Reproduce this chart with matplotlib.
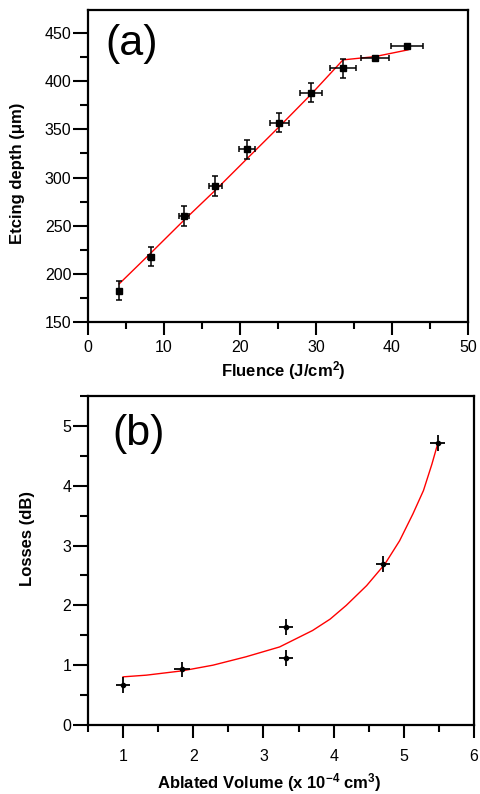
import matplotlib
matplotlib.use("Agg")
import matplotlib.pyplot as plt
from matplotlib.ticker import MultipleLocator

plt.rcParams['font.family'] = ['Liberation Sans', 'DejaVu Sans']
plt.rcParams['mathtext.fontset'] = 'custom'
plt.rcParams['mathtext.rm'] = 'Liberation Sans'
plt.rcParams['mathtext.bf'] = 'Liberation Sans:bold'
plt.rcParams['mathtext.it'] = 'Liberation Sans:italic'

# ---- Panel (a) data ----
fluence = [4.1, 8.3, 12.6, 16.75, 20.95, 25.15, 29.35, 33.55, 37.75, 41.95]
depth = [182.6, 218, 260, 291.3, 329.5, 357, 388, 413.5, 424.6, 436.7]
fluence_err = [0.2, 0.42, 0.63, 0.84, 1.05, 1.26, 1.47, 1.68, 1.89, 2.1]
depth_err = [10, 10, 10, 10, 10, 10, 10, 10, 0, 0]
fit_a_x = [4.1, 8.3, 12.6, 16.75, 20.95, 25.15, 29.35, 33.55, 37.75, 42.1]
fit_a_y = [189.6, 221.9, 255.5, 286.8, 319.8, 352.7, 386.4, 422.2, 425.6, 432.6]

# ---- Panel (b) data ----
volume = [1.0, 1.84, 3.32, 3.32, 4.71, 5.48]
losses = [0.667, 0.93, 1.64, 1.12, 2.69, 4.71]
volume_err = [0.1, 0.12, 0.1, 0.1, 0.1, 0.1]
losses_err = [0.13, 0.13, 0.13, 0.13, 0.13, 0.13]
fit_b_x = [1.0, 1.33, 1.84, 2.28, 2.75, 3.23, 3.70, 3.95, 4.18, 4.47, 4.73,
           4.94, 5.13, 5.28, 5.40, 5.48]
fit_b_y = [0.805, 0.833, 0.905, 1.0, 1.14, 1.305, 1.58, 1.77, 2.0, 2.33, 2.69,
           3.08, 3.53, 3.92, 4.36, 4.69]

fig = plt.figure(figsize=(4.81, 7.94), dpi=100)
W, H = 481, 794

def axes_px(l, t, r, b):
    return fig.add_axes([l / W, 1 - b / H, (r - l) / W, (b - t) / H])

def style(ax):
    for s in ax.spines.values():
        s.set_linewidth(1.6)
    ax.tick_params(which='both', direction='out', top=False, right=False,
                   width=1.5, labelsize=11.5)
    ax.tick_params(axis='x', which='major', length=9, pad=4)
    ax.tick_params(axis='x', which='minor', length=5)
    ax.tick_params(axis='y', which='major', length=11, pad=1)
    ax.tick_params(axis='y', which='minor', length=6)

# Panel (a)
ax1 = axes_px(88, 10, 468, 322)
ax1.plot(fit_a_x, fit_a_y, color='red', lw=1.0, zorder=2)
ax1.errorbar(fluence, depth, xerr=fluence_err, yerr=depth_err, fmt='s',
             color='black', ms=4, ecolor='black', elinewidth=1.1,
             capsize=2.5, capthick=1.1, zorder=3)
ax1.set_xlim(0, 50)
ax1.set_ylim(150, 474)
ax1.xaxis.set_major_locator(MultipleLocator(10))
ax1.xaxis.set_minor_locator(MultipleLocator(5))
ax1.yaxis.set_major_locator(MultipleLocator(50))
ax1.yaxis.set_minor_locator(MultipleLocator(25))
style(ax1)
ax1.set_xlabel(r'Fluence (J/cm$^\mathbf{2}$)', fontsize=12, fontweight='bold')
ax1.set_ylabel('Etcing depth (μm)', fontsize=12, fontweight='bold')
ax1.xaxis.set_label_coords(0.515, -0.118)
ax1.yaxis.set_label_coords(-0.166, 0.478)
ax1.text(0.045, 0.856, '(a)', transform=ax1.transAxes, fontsize=31,
         ha='left', va='baseline')

# Panel (b)
ax2 = axes_px(88, 396, 474, 725)
ax2.plot(fit_b_x, fit_b_y, color='red', lw=1.0, zorder=2)
ax2.errorbar(volume, losses, xerr=volume_err, yerr=losses_err, fmt='o',
             color='black', ms=3, ecolor='black', elinewidth=1.3,
             capsize=0, zorder=3)
ax2.set_xlim(0.5, 6)
ax2.set_ylim(0, 5.5)
ax2.xaxis.set_major_locator(MultipleLocator(1))
ax2.xaxis.set_minor_locator(MultipleLocator(0.5))
ax2.yaxis.set_major_locator(MultipleLocator(1))
ax2.yaxis.set_minor_locator(MultipleLocator(0.5))
style(ax2)
ax2.tick_params(axis='x', which='major', pad=8)
ax2.set_xlabel(r'Ablated Volume (x 10$^\mathbf{-4}$ cm$^\mathbf{3}$)', fontsize=12, fontweight='bold')
ax2.set_ylabel('Losses (dB)', fontsize=12, fontweight='bold')
ax2.xaxis.set_label_coords(0.47, -0.14)
ax2.yaxis.set_label_coords(-0.137, 0.567)
ax2.text(0.062, 0.85, '(b)', transform=ax2.transAxes, fontsize=31,
         ha='left', va='baseline')

fig.savefig('out.png', dpi=100)
